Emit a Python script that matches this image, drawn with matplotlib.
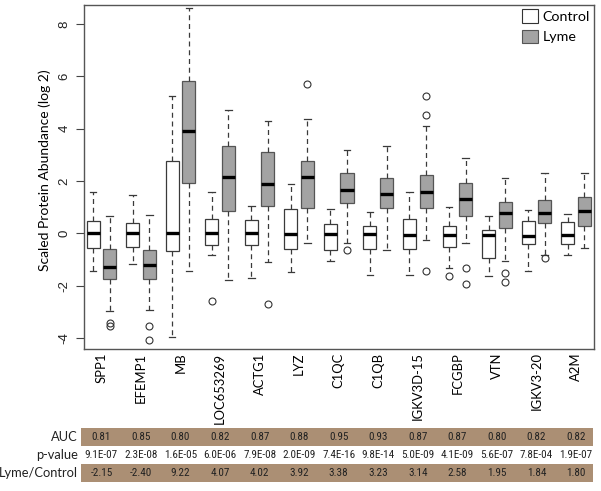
import numpy as np
import matplotlib
matplotlib.use("Agg")
import matplotlib.pyplot as plt
from matplotlib import font_manager as fm
from matplotlib import transforms
from matplotlib.patches import Patch, Rectangle

# ---------------- data ----------------
genes = ["SPP1", "EFEMP1", "MB", "LOC653269", "ACTG1", "LYZ", "C1QC", "C1QB",
         "IGKV3D-15", "FCGBP", "VTN", "IGKV3-20", "A2M"]

ctrl_whislo = [-1.43, -1.15, -3.96, -0.81, -1.70, -1.47, -1.05, -1.60, -1.60, -1.30, -1.63, -1.42, -0.82]
ctrl_q1     = [-0.54, -0.53, -0.68, -0.44, -0.45, -0.60, -0.63, -0.58, -0.60, -0.50, -0.95, -0.41, -0.41]
ctrl_med    = [0.00, 0.00, 0.00, 0.00, 0.00, -0.03, -0.03, -0.02, -0.06, -0.04, -0.07, -0.08, -0.06]
ctrl_q3     = [0.49, 0.41, 2.78, 0.54, 0.50, 0.94, 0.36, 0.30, 0.57, 0.30, 0.12, 0.46, 0.42]
ctrl_whishi = [1.57, 1.48, 5.25, 1.59, 1.05, 1.89, 0.95, 0.82, 1.58, 1.01, 0.68, 0.90, 0.75]
ctrl_fliers = [[], [], [], [-2.59], [], [], [], [], [], [-1.64], [], [], []]

lyme_whislo = [-2.95, -2.94, -1.42, -1.77, -1.08, -0.35, -0.36, -0.63, -0.25, -0.36, -1.05, -0.82, -0.57]
lyme_q1     = [-1.72, -1.72, 1.93, 0.87, 1.04, 0.99, 1.16, 0.96, 0.97, 0.67, 0.20, 0.40, 0.28]
lyme_med    = [-1.29, -1.19, 3.92, 2.17, 1.89, 2.17, 1.66, 1.52, 1.58, 1.33, 0.79, 0.79, 0.87]
lyme_q3     = [-0.59, -0.62, 5.82, 3.33, 3.12, 2.78, 2.32, 2.11, 2.22, 1.92, 1.19, 1.29, 1.38]
lyme_whishi = [0.66, 0.70, 8.60, 4.71, 4.31, 4.37, 3.20, 3.33, 4.09, 2.87, 2.13, 2.30, 2.30]
lyme_fliers = [[-3.42, -3.55], [-3.55, -4.06], [], [], [-2.68], [5.71], [-0.63], [],
               [5.26, 4.51, -1.43], [-1.33, -1.92], [-1.50, -1.87], [-0.92], []]

auc   = ["0.81", "0.85", "0.80", "0.82", "0.87", "0.88", "0.95", "0.93", "0.87", "0.87", "0.80", "0.82", "0.82"]
pval  = ["9.1E-07", "2.3E-08", "1.6E-05", "6.0E-06", "7.9E-08", "2.0E-09", "7.4E-16", "9.8E-14",
         "5.0E-09", "4.1E-09", "5.6E-07", "7.8E-04", "1.9E-07"]
ratio = ["-2.15", "-2.40", "9.22", "4.07", "4.02", "3.92", "3.38", "3.23", "3.14", "2.58", "1.95", "1.84", "1.80"]
row_labels = ["AUC", "p-value", "Lyme/Control"]
legend_labels = ["Control", "Lyme"]
y_ticks = [-4, -2, 0, 2, 4, 6, 8]

# ---------------- fonts ----------------
LABEL_FONT = ["Lato", "DejaVu Sans"]
TICK_FONT = ["Liberation Sans", "DejaVu Sans"]


def pick_narrow():
    names = {f.name for f in fm.fontManager.ttflist}
    for cand in ["Liberation Sans Narrow", "Roboto Condensed", "Open Sans Condensed",
                 "DejaVu Sans Condensed", "Arial Narrow"]:
        if cand in names:
            return dict(family=cand), 8.0
    for f in fm.fontManager.ttflist:
        if f.name == "DejaVu Sans" and f.stretch in ("condensed", "semi-condensed"):
            return dict(family="DejaVu Sans", stretch="condensed"), 7.4
    return dict(family=["Lato", "DejaVu Sans"]), 7.3


NARROW, NARROW_SIZE = pick_narrow()

# ---------------- figure ----------------
W, H = 601, 491
fig = plt.figure(figsize=(W / 100, H / 100), dpi=100)
ax = fig.add_axes([84 / W, 1 - 349 / H, 510 / W, 344 / H])

centers = np.arange(len(genes))
off = 0.21
bw = 0.33


def stats(wl, q1, md, q3, wh, fl):
    return [dict(whislo=a, q1=b, med=c, q3=d, whishi=e, fliers=f)
            for a, b, c, d, e, f in zip(wl, q1, md, q3, wh, fl)]


common = dict(widths=bw, patch_artist=True, manage_ticks=False, showfliers=True,
              capwidths=bw * 0.5,
              whiskerprops=dict(color="#3a3a3a", linewidth=0.9, linestyle=(0, (4, 3))),
              capprops=dict(color="#3a3a3a", linewidth=0.9),
              medianprops=dict(color="black", linewidth=2.4, solid_capstyle="butt"),
              flierprops=dict(marker="o", markerfacecolor="none", markeredgecolor="#333333",
                              markersize=5, markeredgewidth=0.8, linestyle="none"))

ax.bxp(stats(ctrl_whislo, ctrl_q1, ctrl_med, ctrl_q3, ctrl_whishi, ctrl_fliers),
       positions=centers - off,
       boxprops=dict(facecolor="white", edgecolor="#3a3a3a", linewidth=0.9), **common)
ax.bxp(stats(lyme_whislo, lyme_q1, lyme_med, lyme_q3, lyme_whishi, lyme_fliers),
       positions=centers + off,
       boxprops=dict(facecolor="#a3a3a3", edgecolor="#555555", linewidth=0.9), **common)

ax.set_xlim(-0.44, len(genes) - 1 + 0.455)
ax.set_ylim(-4.41, 8.72)

ax.set_xticks(centers)
ax.set_xticklabels(genes, rotation=90, fontfamily=LABEL_FONT, fontsize=9.4)
ax.tick_params(axis="x", length=0, pad=2.5)

ax.set_yticks(y_ticks)
ax.set_yticklabels([str(t) for t in y_ticks], rotation=90, va="center",
                   fontfamily=TICK_FONT, fontsize=9.5, color="#222222")
ax.tick_params(axis="y", length=5.5, width=0.8, color="#444444", pad=4)

for s in ax.spines.values():
    s.set_color("#555555")
    s.set_linewidth(1.0)

ax.set_ylabel("Scaled Protein Abundance (log 2)", fontfamily=LABEL_FONT, fontsize=10,
              va="center")
ax.yaxis.set_label_coords(-0.0765, 0.52)

handles = [Patch(facecolor="white", edgecolor="#333333", linewidth=0.8),
           Patch(facecolor="#a3a3a3", edgecolor="#555555", linewidth=0.8)]
ax.legend(handles, legend_labels, loc="upper right", frameon=False,
          prop=dict(family=LABEL_FONT, size=10.3), handlelength=1.1, handleheight=1.05,
          handletextpad=0.3, labelspacing=0.5, borderaxespad=0.1, borderpad=0.2)

# ---------------- table ----------------
band_color = "#ab8f74"
row_y = [437, 455, 473]          # pixel centre of each row
band_h = 18
for yc, fill in zip(row_y, [True, False, True]):
    if fill:
        fig.patches.append(Rectangle((80.7 / W, 1 - (yc + band_h / 2) / H),
                                     (593 - 80.7) / W, band_h / H,
                                     transform=fig.transFigure, facecolor=band_color,
                                     edgecolor="none", zorder=0))

blend = transforms.blended_transform_factory(ax.transData, fig.transFigure)
for yc, lab, vals in zip(row_y, row_labels, [auc, pval, ratio]):
    fig.text(78 / W, 1 - yc / H, lab, ha="right", va="center",
             fontfamily=LABEL_FONT, fontsize=9.3, color="#222222")
    for xc, v in zip(centers, vals):
        fig.text(xc, 1 - yc / H, v, transform=blend, ha="center", va="center",
                 fontsize=NARROW_SIZE, color="#222222", **NARROW)

fig.savefig("out.png", dpi=100)
